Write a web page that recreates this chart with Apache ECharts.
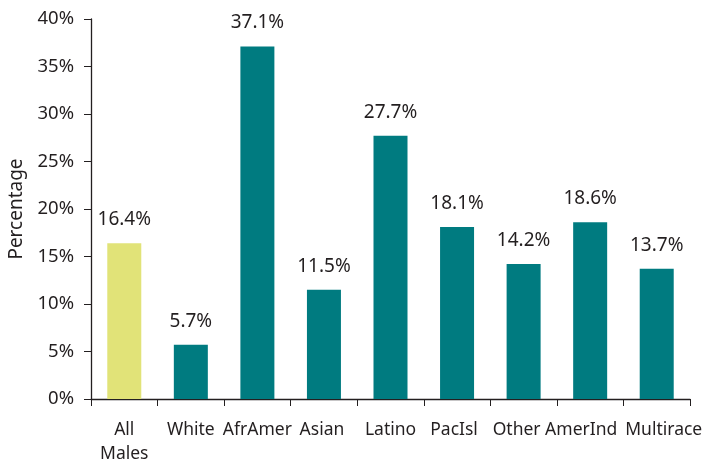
<!DOCTYPE html>
<html><head><meta charset="utf-8">
<script src="https://cdn.jsdelivr.net/npm/echarts@6/dist/echarts.min.js"></script>
<style>html,body{margin:0;padding:0;background:#fff}#c{width:704px;height:464px}</style>
</head><body><div id="c"></div>
<script>
const categories = ["All\nMales", "White", "AfrAmer", "Asian", "Latino", "PacIsl", "Other", "AmerInd", "Multirace"];
const values = [16.4, 5.7, 37.1, 11.5, 27.7, 18.1, 14.2, 18.6, 13.7];
const barColors = ["#E1E378", "#007B80", "#007B80", "#007B80", "#007B80", "#007B80", "#007B80", "#007B80", "#007B80"];
const yTicks = [0, 5, 10, 15, 20, 25, 30, 35, 40];

const font = "Noto Sans";
const txt = "#231F20";
// label nudges (horizontal px) to mimic the reference label placement
const labelShift = {"Other": -7, "AmerInd": -9, "Multirace": 7, "Asian": -2, "PacIsl": -3};
const catData = categories.map(c => {
  const s = labelShift[c] || 0;
  return s ? {value: c, textStyle: {padding: s < 0 ? [0, -2 * s, 0, 0] : [0, 0, 0, 2 * s]}} : c;
});

const chart = echarts.init(document.getElementById('c'));
chart.setOption({
  animation: false,
  grid: {left: 91, right: 14, top: 19, bottom: 65, containLabel: false, outerBoundsMode: 'none'},
  xAxis: {
    type: 'category', data: catData,
    axisLine: {lineStyle: {color: '#231F20', width: 1.3}},
    axisTick: {show: true, alignWithLabel: false, length: 7, lineStyle: {color: '#231F20'}},
    axisLabel: {color: txt, fontFamily: font, fontSize: 17.5, margin: 19, lineHeight: 24, interval: 0}
  },
  yAxis: {
    type: 'value', min: 0, max: 40, interval: 5,
    name: 'Percentage', nameLocation: 'middle', nameGap: 63,
    nameTextStyle: {color: txt, fontFamily: font, fontSize: 19},
    axisLine: {show: true, lineStyle: {color: '#231F20', width: 1.3}},
    axisTick: {show: true, length: 7, lineStyle: {color: '#231F20'}},
    splitLine: {show: false},
    axisLabel: {color: txt, fontFamily: font, fontSize: 18.5, margin: 17,
      formatter: v => yTicks.includes(v) ? v + '%' : ''}
  },
  series: [{
    type: 'bar', barWidth: 34,
    data: values.map((v, i) => ({value: v, itemStyle: {color: barColors[i]}})),
    label: {show: true, position: 'top', distance: 14, color: txt, fontFamily: font, fontSize: 19,
      formatter: p => p.value.toFixed(1) + '%'}
  }]
});
</script></body></html>
